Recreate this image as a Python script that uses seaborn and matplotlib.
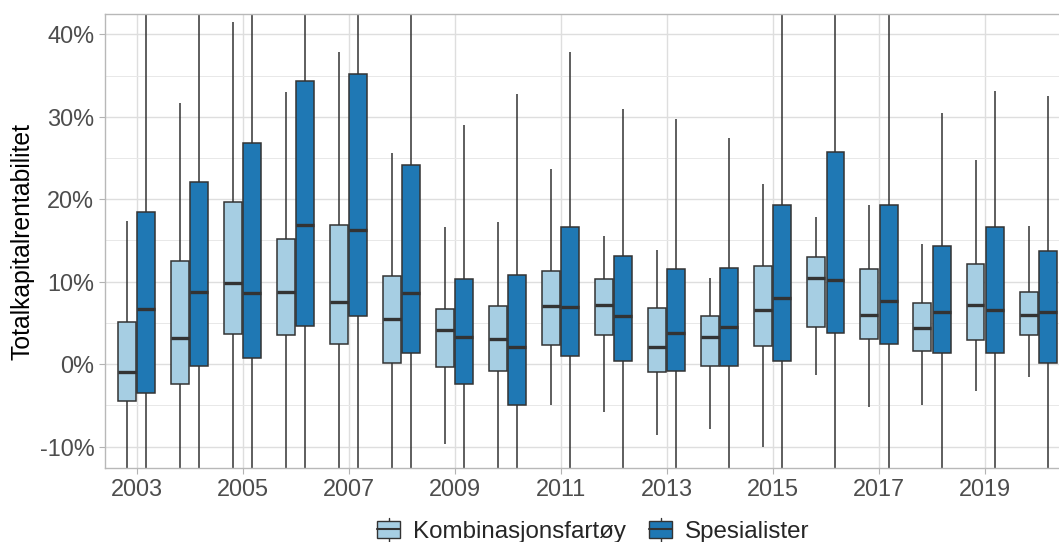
import numpy as np
import pandas as pd
import matplotlib
matplotlib.use("Agg")
import matplotlib.pyplot as plt
import seaborn as sns
from matplotlib.patches import Patch, Rectangle
from matplotlib.lines import Line2D
from matplotlib.legend_handler import HandlerBase

# ---------------- data (five-number summaries, % ) ----------------
years = list(range(2003, 2021))
groups = ["Kombinasjonsfartøy", "Spesialister"]
colors = ["#a6cee3", "#1f78b4"]

komb_lo = [-30, -30, -30, -30, -30, -30, -9.7, -30, -5.0, -5.8, -8.6, -7.9, -10.0, -1.3, -5.2, -4.9, -3.3, -1.5]
komb_q1 = [-4.5, -2.4, 3.7, 3.5, 2.5, 0.1, -0.4, -0.8, 2.3, 3.5, -1.0, -0.2, 2.2, 4.5, 3.1, 1.6, 2.9, 3.5]
komb_med = [-0.9, 3.2, 9.8, 8.7, 7.5, 5.5, 4.2, 3.0, 7.1, 7.2, 2.1, 3.3, 6.6, 10.5, 6.0, 4.4, 7.2, 6.0]
komb_q3 = [5.1, 12.5, 19.7, 15.2, 16.9, 10.7, 6.7, 7.1, 11.3, 10.3, 6.8, 5.9, 11.9, 13.0, 11.5, 7.4, 12.1, 8.8]
komb_hi = [17.4, 31.7, 41.5, 33.0, 37.9, 25.6, 16.6, 17.2, 23.7, 15.6, 13.8, 10.5, 21.9, 17.8, 19.3, 14.6, 24.7, 16.8]

spes_lo = [-30] * 18
spes_q1 = [-3.5, -0.2, 0.7, 4.6, 5.8, 1.4, -2.4, -5.0, 1.0, 0.4, -0.8, -0.2, 0.4, 3.8, 2.5, 1.4, 1.3, 0.2]
spes_med = [6.65, 8.7, 8.6, 16.9, 16.3, 8.6, 3.3, 2.1, 6.9, 5.9, 3.75, 4.5, 8.0, 10.2, 7.65, 6.3, 6.6, 6.3]
spes_q3 = [18.4, 22.1, 26.8, 34.3, 35.2, 24.2, 10.3, 10.85, 16.6, 13.1, 11.5, 11.65, 19.3, 25.7, 19.3, 14.3, 16.6, 13.7]
spes_hi = [60, 60, 60, 60, 60, 60, 29.05, 32.7, 37.8, 30.9, 29.7, 27.4, 60, 60, 60, 30.4, 33.1, 32.5]

y_ticks = [-10, 0, 10, 20, 30, 40]
x_tick_years = years[::2]

# ---------------- long table ----------------
rows = []
for grp, arrs in zip(groups, [(komb_lo, komb_q1, komb_med, komb_q3, komb_hi),
                              (spes_lo, spes_q1, spes_med, spes_q3, spes_hi)]):
    for i, yr in enumerate(years):
        for a in arrs:
            rows.append({"year": str(yr), "group": grp, "value": a[i]})
df = pd.DataFrame(rows)

# ---------------- plot ----------------
sns.set_theme(style="white")
plt.rcParams["font.family"] = ["Liberation Sans", "DejaVu Sans"]

W, H = 1059, 542
fig = plt.figure(figsize=(W / 100, H / 100), dpi=100)
left, right, top, bottom = 104.7, 1069.9, 14.0, 467.7
ax = fig.add_axes([left / W, (H - bottom) / H, (right - left) / W, (bottom - top) / H])

edge = "#333333"
sns.boxplot(data=df, x="year", y="value", hue="group",
            order=[str(y) for y in years], hue_order=groups,
            palette=colors, saturation=1, width=0.72, gap=0.06,
            whis=(0, 100), linecolor=edge, linewidth=1.1, fliersize=0,
            medianprops=dict(linewidth=2.4, color=edge),
            whiskerprops=dict(linewidth=1.1, color=edge),
            capprops=dict(linewidth=0),
            legend=False, ax=ax)

ax.set_xlim(-0.6, 17.6)
ax.set_ylim(-12.55, 42.46)
ax.set_xticks([years.index(y) for y in x_tick_years], labels=[str(y) for y in x_tick_years])
ax.set_yticks(y_ticks, labels=[f"{v}%" for v in y_ticks])
ax.set_yticks([v + 5 for v in y_ticks[:-1]], minor=True)

ax.grid(which="major", color="#dedede", linewidth=1.0)
ax.grid(which="minor", axis="y", color="#e8e8e8", linewidth=0.7)
ax.set_axisbelow(True)
for s in ax.spines.values():
    s.set_color("#b8b8b8")
    s.set_linewidth(1.0)

ax.tick_params(axis="both", which="major", length=4, width=0.8, color="#b3b3b3",
               labelsize=16.9, labelcolor="#4d4d4d", pad=3.5,
               bottom=True, left=True)
ax.tick_params(axis="both", which="minor", length=0)

ax.set_xlabel("")
ax.set_ylabel("Totalkapitalrentabilitet", fontsize=17.8, color="black")
ax.yaxis.label.set_verticalalignment("center")
ax.yaxis.set_label_coords(22.5 / W, (H - 241) / H, transform=fig.transFigure)


class BoxHandler(HandlerBase):
    def create_artists(self, legend, orig_handle, xdescent, ydescent, width, height,
                       fontsize, trans):
        x0, y0 = -xdescent, -ydescent
        vline = Line2D([x0 + width / 2] * 2, [y0 - 0.35 * height, y0 + 1.15 * height],
                       color=edge, lw=1.0, transform=trans)
        rect = Rectangle((x0, y0), width, height, facecolor=orig_handle.get_facecolor(),
                         edgecolor=edge, lw=1.0, transform=trans)
        med = Line2D([x0, x0 + width], [y0 + height / 2] * 2, color=edge, lw=1.5,
                     transform=trans)
        return [vline, rect, med]


handles = [Patch(facecolor=c) for c in colors]
fig.legend(handles=handles, labels=groups, handler_map={Patch: BoxHandler()},
           loc="center", bbox_to_anchor=(0.5604, 0.019), ncol=2, frameon=False,
           fontsize=17.4, handlelength=0.92, handleheight=0.7, handletextpad=0.55,
           columnspacing=0.97, borderpad=0, borderaxespad=0)

fig.savefig("out.png", dpi=100)
